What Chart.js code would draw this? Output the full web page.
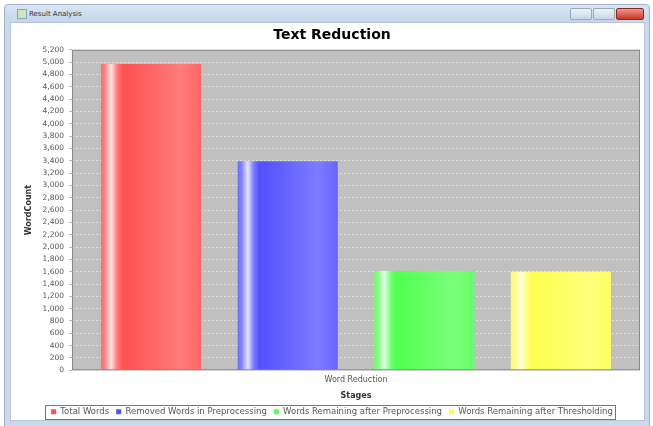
<!DOCTYPE html>
<html>
<head>
<meta charset="utf-8">
<script src="https://cdn.jsdelivr.net/npm/chart.js@4/dist/chart.umd.min.js"></script>
<style>
  html, body { margin: 0; padding: 0; background: #fff; }
  #page { position: relative; width: 653px; height: 426px; overflow: hidden; background: #fff; }
  #frame { position: absolute; left: 4px; top: 4px; width: 644px; height: 430px;
    background: linear-gradient(#d9e5f3, #c3d4ea 18px, #c9d9ee 18px); border: 1px solid #9fb3cc; border-radius: 4px 4px 0 0; }
  #inner { position: absolute; left: 10px; top: 22px; width: 633px; height: 397px; background: #fff; border: 1px solid #b7c6da; }
  #caption { position: absolute; left: 29px; top: 10px; font: 7px "DejaVu Sans", sans-serif; color: #333; }
  #icon { position: absolute; left: 17px; top: 9px; width: 8px; height: 8px; background: #cfe3c0; border: 1px solid #8aa; }
  .btn { position: absolute; top: 8px; height: 10px; border: 1px solid #9aaabb; border-radius: 2px; background: linear-gradient(#eef3f9, #c9d6e6); }
  #cv { position: absolute; left: 0; top: 0; }
</style>
</head>
<body>
<div id="page">
  <div id="frame"></div>
  <div id="icon"></div>
  <div id="caption">Result Analysis</div>
  <div class="btn" style="left:570px;width:20px"></div>
  <div class="btn" style="left:593px;width:20px"></div>
  <div class="btn" style="left:616px;width:26px;background:linear-gradient(#f0968a,#c8382a);border-color:#8a2a20"></div>
  <div id="inner"></div>
  <canvas id="cv" width="653" height="426"></canvas>
</div>
<script>
// data
var categories = ['Word Reduction'];
var seriesNames = ['Total Words', 'Removed Words in Preprocessing', 'Words Remaining after Preprocessing', 'Words Remaining after Thresholding'];
var totalWords = [4970];
var removedWords = [3390];
var remainingAfterPreprocessing = [1610];
var remainingAfterThresholding = [1600];
var yMin = 0, yMax = 5200, yStep = 200;

var seriesColors = ['#ff5050', '#5050ff', '#50ff50', '#ffff50'];
var catPct = 0.962, barPct = 0.733;

function mix(hex, t) {
  var r = parseInt(hex.substr(1, 2), 16), g = parseInt(hex.substr(3, 2), 16), b = parseInt(hex.substr(5, 2), 16);
  r = Math.round(r + (255 - r) * t); g = Math.round(g + (255 - g) * t); b = Math.round(b + (255 - b) * t);
  return 'rgb(' + r + ',' + g + ',' + b + ')';
}

// JFreeChart style gradient across each bar
function barFill(c) {
  var base = seriesColors[c.datasetIndex];
  var xs = c.chart.scales.x;
  if (!xs || xs.width === undefined || !c.chart.ctx) return base;
  var slot = xs.width * catPct / seriesNames.length;
  var left = xs.left + xs.width * (1 - catPct) / 2 + c.datasetIndex * slot + slot * (1 - barPct) / 2;
  var w = slot * barPct;
  var g = c.chart.ctx.createLinearGradient(left, 0, left + w, 0);
  g.addColorStop(0, mix(base, 0.15));
  g.addColorStop(0.04, mix(base, 0.3));
  g.addColorStop(0.1, mix(base, 0.85));
  g.addColorStop(0.16, mix(base, 0.25));
  g.addColorStop(0.22, base);
  g.addColorStop(0.8, mix(base, 0.25));
  g.addColorStop(1, mix(base, 0.12));
  return g;
}

var plotBg = {
  id: 'plotBg',
  beforeDraw: function (chart) {
    var a = chart.chartArea, ctx = chart.ctx;
    ctx.save();
    ctx.fillStyle = '#c0c0c0';
    ctx.fillRect(a.left, a.top, a.right - a.left, a.bottom - a.top);
    ctx.restore();
  },
  afterDraw: function (chart) {
    var ctx = chart.ctx, a = chart.chartArea;
    ctx.save();
    ctx.strokeStyle = '#888';
    ctx.lineWidth = 1;
    ctx.strokeRect(a.left + 0.5, a.top + 0.5, a.right - a.left - 1, a.bottom - a.top - 1);
    var boxes = chart.legend.legendHitBoxes;
    if (boxes && boxes.length) {
      var l = boxes[0].left - 6, r = boxes[boxes.length - 1].left + boxes[boxes.length - 1].width + 2;
      var t = boxes[0].top - 3, h = boxes[0].height + 5;
      ctx.strokeStyle = '#777';
      ctx.strokeRect(Math.round(l) + 0.5, Math.round(t) + 0.5, Math.round(r - l), Math.round(h));
    }
    ctx.restore();
  }
};

var values = [totalWords, removedWords, remainingAfterPreprocessing, remainingAfterThresholding];

new Chart(document.getElementById('cv'), {
  type: 'bar',
  data: {
    labels: categories,
    datasets: seriesNames.map(function (name, i) {
      return {
        label: name,
        data: values[i],
        backgroundColor: barFill,
        borderWidth: 0,
        categoryPercentage: catPct,
        barPercentage: barPct
      };
    })
  },
  options: {
    responsive: false,
    animation: false,
    layout: { padding: { left: 24, right: 13, top: 0, bottom: 0 } },
    plugins: {
      title: {
        display: true,
        text: 'Text Reduction',
        color: '#000',
        font: { family: 'DejaVu Sans', size: 14, weight: 'bold' },
        padding: { top: 27, bottom: 6 }
      },
      legend: {
        position: 'bottom',
        labels: {
          color: '#555',
          boxWidth: 5,
          boxHeight: 5,
          padding: 7,
          font: { family: 'DejaVu Sans', size: 8.5 },
          generateLabels: function (chart) {
            return chart.data.datasets.map(function (d, i) {
              return { text: d.label, fillStyle: seriesColors[i], strokeStyle: seriesColors[i], lineWidth: 0, datasetIndex: i, fontColor: '#555' };
            });
          }
        }
      },
      tooltip: { enabled: false }
    },
    scales: {
      x: {
        grid: { display: false, drawTicks: false },
        border: { display: false },
        ticks: { color: '#555', padding: 5, font: { family: 'DejaVu Sans', size: 8 } },
        title: { display: true, text: 'Stages', color: '#333', padding: { top: 1, bottom: 0 }, font: { family: 'DejaVu Sans', size: 8, weight: 'bold' } }
      },
      y: {
        min: yMin,
        max: yMax,
        grid: { color: '#f4f4f4', lineWidth: 0.6, tickLength: 3, tickColor: '#888', tickBorderDash: [] },
        border: { display: false, dash: [2, 2] },
        ticks: { stepSize: yStep, autoSkip: false, color: '#555', padding: 5, font: { family: 'DejaVu Sans', size: 7.5 } },
        title: { display: true, text: 'WordCount', color: '#333', padding: { top: 0, bottom: 4 }, font: { family: 'DejaVu Sans', size: 8, weight: 'bold' } }
      }
    }
  },
  plugins: [plotBg]
});
</script>
</body>
</html>
